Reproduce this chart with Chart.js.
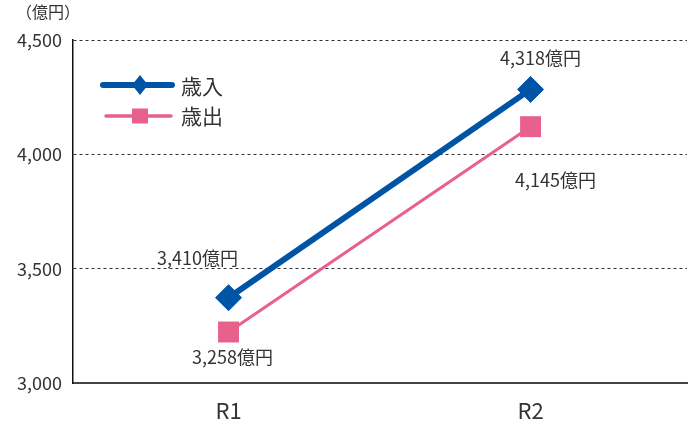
<!DOCTYPE html>
<html>
<head>
<meta charset="utf-8">
<script src="https://cdn.jsdelivr.net/npm/chart.js@4.4.1/dist/chart.umd.min.js"></script>
<style>
  html, body { margin: 0; padding: 0; background: #fff; }
</style>
</head>
<body>
<canvas id="chart" width="696" height="428"></canvas>
<script>
const categories = ['R1', 'R2'];
const revenue = [3373, 4284];   // 歳入
const expense = [3223, 4121];   // 歳出
const revenueLabels = ['3,410億円', '4,318億円'];
const expenseLabels = ['3,258億円', '4,145億円'];
const seriesNames = ['歳入', '歳出'];
const yTicks = [3000, 3500, 4000, 4500];

const NAVY = '#0054a6';
const PINK = '#e8608c';
const FONT = "'Noto Sans CJK JP', 'Noto Sans', sans-serif";

Chart.defaults.font.family = FONT;
Chart.defaults.color = '#333';

// label offsets from each point (px)
const labelOffsets = [
  [[-31, -40], [10, -31]],
  [[4, 25], [25, 53]]
];
const allLabels = [revenueLabels, expenseLabels];

const extrasPlugin = {
  id: 'extras',
  afterDatasetsDraw(chart) {
    const ctx = chart.ctx;
    ctx.save();

    // unit label
    ctx.fillStyle = '#333';
    ctx.font = '16px ' + FONT;
    ctx.textAlign = 'center';
    ctx.textBaseline = 'middle';
    ctx.fillText('（億円）', 48, 12);

    // value labels
    ctx.font = '18px ' + FONT;
    chart.data.datasets.forEach((ds, di) => {
      chart.getDatasetMeta(di).data.forEach((pt, i) => {
        const [dx, dy] = labelOffsets[di][i];
        ctx.fillText(allLabels[di][i], pt.x + dx, pt.y + dy);
      });
    });

    // legend
    ctx.lineCap = 'round';
    ctx.strokeStyle = NAVY;
    ctx.lineWidth = 6;
    ctx.beginPath(); ctx.moveTo(103, 85); ctx.lineTo(172, 85); ctx.stroke();
    ctx.fillStyle = NAVY;
    ctx.beginPath();
    ctx.moveTo(140, 75); ctx.lineTo(148, 85); ctx.lineTo(140, 95); ctx.lineTo(132, 85);
    ctx.closePath(); ctx.fill();

    ctx.strokeStyle = PINK;
    ctx.lineWidth = 3.5;
    ctx.beginPath(); ctx.moveTo(106, 116); ctx.lineTo(171, 116); ctx.stroke();
    ctx.fillStyle = PINK;
    ctx.fillRect(132, 108.5, 16, 15);

    ctx.fillStyle = '#333';
    ctx.font = '21px ' + FONT;
    ctx.textAlign = 'left';
    ctx.fillText(seriesNames[0], 181, 86);
    ctx.fillText(seriesNames[1], 181, 116);

    ctx.restore();
  }
};

new Chart(document.getElementById('chart'), {
  type: 'line',
  data: {
    datasets: [
      {
        label: seriesNames[0],
        data: revenue.map((v, i) => ({ x: i, y: v })),
        borderColor: NAVY,
        backgroundColor: NAVY,
        borderWidth: 6,
        pointStyle: 'rectRot',
        pointRadius: 13,
        pointBorderWidth: 1,
        pointBackgroundColor: NAVY,
        pointBorderColor: NAVY
      },
      {
        label: seriesNames[1],
        data: expense.map((v, i) => ({ x: i, y: v })),
        borderColor: PINK,
        backgroundColor: PINK,
        borderWidth: 3,
        pointStyle: 'rect',
        pointRadius: 14.8,
        pointBorderWidth: 0,
        pointBackgroundColor: PINK
      }
    ]
  },
  options: {
    responsive: false,
    animation: false,
    devicePixelRatio: 1,
    layout: { autoPadding: false, padding: { top: 40, right: 9, left: 0, bottom: 0 } },
    plugins: {
      legend: { display: false },
      tooltip: { enabled: false }
    },
    scales: {
      x: {
        type: 'linear',
        min: -0.515,
        max: 1.518,
        afterBuildTicks: s => { s.ticks = categories.map((c, i) => ({ value: i })); },
        afterFit: s => { s.height = 45; },
        ticks: {
          callback: v => categories[v],
          font: { size: 22 },
          color: '#333',
          padding: 14
        },
        grid: { display: false, drawTicks: false },
        border: { color: '#444', width: 2 }
      },
      y: {
        min: 3000,
        max: 4500,
        afterBuildTicks: s => { s.ticks = yTicks.map(v => ({ value: v })); },
        afterFit: s => { s.width = 73; },
        ticks: {
          callback: v => v.toLocaleString('en-US'),
          font: { size: 18 },
          color: '#333',
          padding: 11
        },
        grid: {
          drawTicks: false,
          color: c => (c.tick && c.tick.value === 3000) ? 'rgba(0,0,0,0)' : '#333',
          lineWidth: 1
        },
        border: { color: '#111', width: 1.5, dash: [3, 3] }
      }
    }
  },
  plugins: [extrasPlugin]
});
</script>
</body>
</html>
